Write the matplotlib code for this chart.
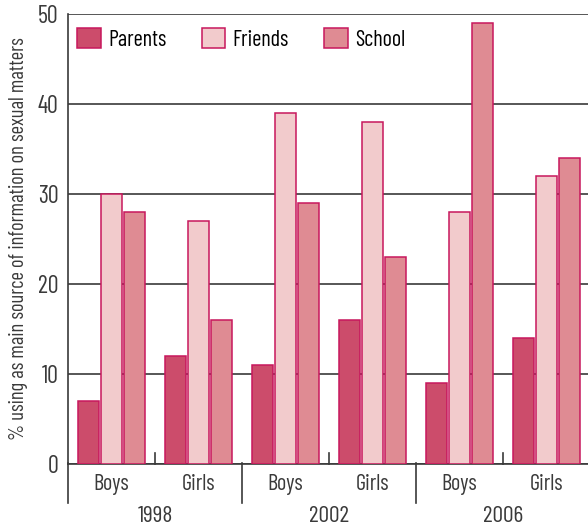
import numpy as np
import matplotlib.pyplot as plt
import matplotlib.transforms as mtransforms

plt.rcParams['font.family'] = ['Barlow Condensed', 'DejaVu Sans']

years = ['1998', '2002', '2006']
genders = ['Boys', 'Girls']
series = ['Parents', 'Friends', 'School']
parents = [7, 12, 11, 16, 9, 14]
friends = [30, 27, 39, 38, 28, 32]
school = [28, 16, 29, 23, 49, 34]
colors = ['#cc4c6b', '#f2cbcc', '#df8b93']
edge = '#c8175d'
txt = '#3a3a3a'

fig = plt.figure(figsize=(5.88, 5.27), dpi=100)
ax = fig.add_axes([68/588, 63/527, 522/588, 450/527])

n = len(parents)
x = np.arange(n) + 0.5
w = 21/87
step = 23/87
for i, (vals, c, name) in enumerate(zip([parents, friends, school], colors, series)):
    ax.bar(x + (i - 1)*step, vals, width=w, color=c, edgecolor=edge, linewidth=1.1,
           label=name, zorder=3)

ax.set_xlim(0, n)
ax.set_ylim(0, 50)
ax.set_yticks(range(0, 51, 10))
ax.yaxis.grid(True, color='#3a3a3a', linewidth=1.2, zorder=1)
ax.tick_params(axis='y', length=0, labelsize=17.5, pad=7, colors=txt)
ax.set_xticks(x)
ax.set_xticklabels(genders * len(years))
ax.tick_params(axis='x', length=0, labelsize=16, pad=7, colors=txt)

for s in ['top', 'right']:
    ax.spines[s].set_visible(False)
ax.spines['left'].set_color('#3a3a3a')
ax.spines['left'].set_linewidth(1.2)
ax.spines['left'].set_bounds(0, 50)
ax.spines['bottom'].set_color('#3a3a3a')
ax.spines['bottom'].set_linewidth(1.2)

# group separators
trans = mtransforms.blended_transform_factory(ax.transData, ax.transAxes)
for k in range(len(years)):
    xs = 2*k
    ax.plot([xs, xs], [0.003, -39/450], transform=trans, color='#3a3a3a',
            linewidth=1.2, clip_on=False)
    ax.plot([xs + 1, xs + 1], [0, 11/450], transform=trans, color='#3a3a3a',
            linewidth=1.2, clip_on=False, zorder=2)
    ax.text(xs + 1, -52/450, years[k], transform=trans, ha='center', va='center',
            fontsize=17, color=txt)

ax.set_ylabel('% using as main source of information on sexual matters',
              fontsize=14.8, color=txt, labelpad=7)

ax.legend(loc='upper left', ncol=3, frameon=False, fontsize=16,
          handlelength=1.07, handleheight=1.03, handletextpad=0.32,
          columnspacing=1.6, borderpad=0, borderaxespad=0,
          bbox_to_anchor=(9/522, 1 - 14/450))

fig.savefig('out.png', dpi=100)
